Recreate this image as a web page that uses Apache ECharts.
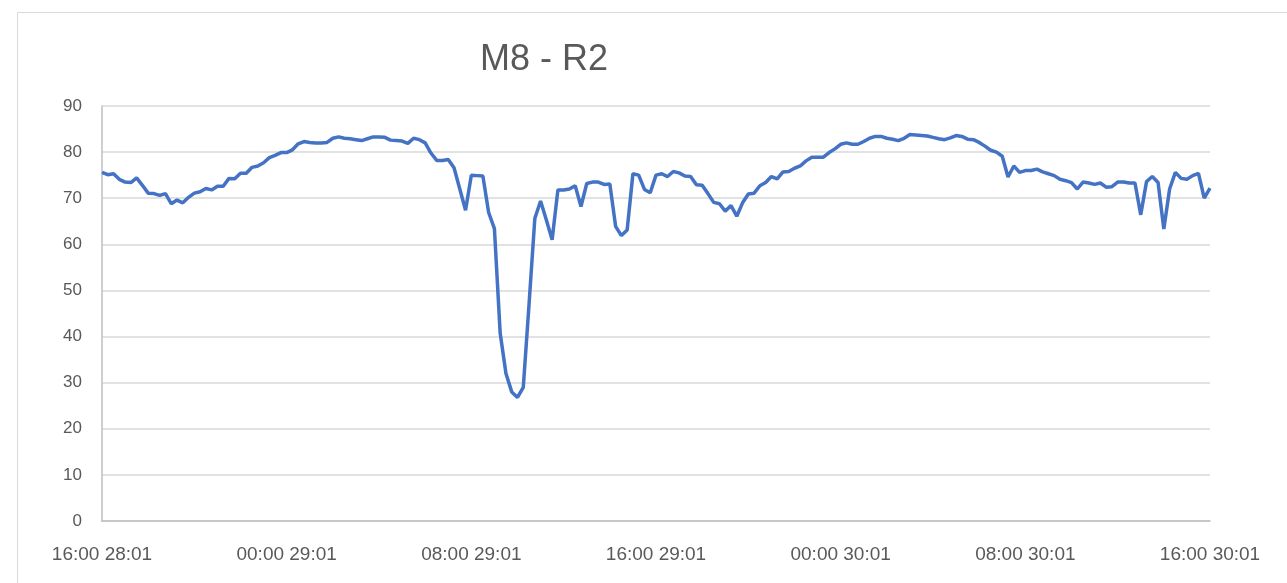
<!DOCTYPE html>
<html>
<head>
<meta charset="utf-8">
<script src="https://cdn.jsdelivr.net/npm/echarts@6/dist/echarts.min.js"></script>
<style>
  html, body { margin: 0; padding: 0; background: #fff; }
  #chart { width: 1287px; height: 583px; }
</style>
</head>
<body>
<div id="chart"></div>
<script>
// 15-minute readings, 16:00 28/01 -> 16:00 30/01
const values = [
  75.6, 75.1, 75.3, 74.1, 73.5, 73.4, 74.4, 72.8, 71.1, 71.0,
  70.6, 71.0, 68.8, 69.6, 69.0, 70.2, 71.1, 71.4, 72.1, 71.8,
  72.6, 72.6, 74.3, 74.2, 75.4, 75.4, 76.7, 77.0, 77.7, 78.8,
  79.3, 79.9, 79.9, 80.5, 81.8, 82.3, 82.1, 82.0, 82.0, 82.1,
  83.0, 83.3, 83.0, 82.9, 82.7, 82.5, 82.9, 83.3, 83.3, 83.2,
  82.6, 82.5, 82.4, 81.9, 83.0, 82.7, 82.0, 79.8, 78.2, 78.2,
  78.4, 76.6, 72.0, 67.4, 75.0, 74.9, 74.8, 66.9, 63.4, 40.7,
  32.0, 28.0, 26.8, 29.0, 47.0, 65.6, 69.4, 65.3, 61.0, 71.8,
  71.8, 72.0, 72.7, 68.2, 73.2, 73.5, 73.5, 73.0, 73.1, 63.9,
  61.9, 63.1, 75.3, 75.0, 71.9, 71.2, 75.0, 75.3, 74.7, 75.8,
  75.5, 74.8, 74.7, 72.9, 72.8, 71.0, 69.1, 68.8, 67.2, 68.4,
  66.1, 69.0, 70.9, 71.1, 72.7, 73.4, 74.7, 74.2, 75.7, 75.8,
  76.5, 77.0, 78.1, 78.9, 78.9, 78.9, 79.9, 80.7, 81.7, 82.0,
  81.7, 81.7, 82.3, 83.0, 83.4, 83.4, 83.0, 82.8, 82.5, 83.0,
  83.8, 83.7, 83.6, 83.5, 83.2, 82.9, 82.7, 83.1, 83.6, 83.4,
  82.8, 82.7, 82.1, 81.3, 80.4, 80.0, 79.1, 74.6, 77.0, 75.6,
  76.0, 76.0, 76.3, 75.7, 75.3, 74.9, 74.1, 73.8, 73.4, 72.0,
  73.5, 73.3, 73.0, 73.3, 72.4, 72.5, 73.5, 73.5, 73.3, 73.3,
  66.4, 73.6, 74.7, 73.4, 63.3, 72.0, 75.6, 74.3, 74.1, 74.9,
  75.4, 70.0, 72.2
];

const startDay = 28;
const startHour = 16;

const pad = (n) => (n < 10 ? '0' + n : '' + n);

// category labels "HH:MM DD:01"
const times = values.map((v, i) => {
  const mins = startHour * 60 + i * 15;
  const day = startDay + Math.floor(mins / 1440);
  const m = mins % 1440;
  return pad(Math.floor(m / 60)) + ':' + pad(m % 60) + ' ' + day + ':01';
});

const chart = echarts.init(document.getElementById('chart'));

const option = {
  backgroundColor: '#fff',
  animation: false,
  title: {
    text: 'M8 - R2',
    left: 539,
    top: 37,
    textAlign: 'center',
    textStyle: {
      color: '#595959',
      fontSize: 36,
      fontWeight: 'normal',
      fontFamily: 'Liberation Sans, Arial, sans-serif',
    },
  },
  graphic: [
    {
      type: 'rect',
      shape: { x: 17.5, y: 12.5, width: 1300, height: 600 },
      style: { fill: 'none', stroke: '#d9d9d9', lineWidth: 1 },
      silent: true,
    },
  ],
  grid: {
    left: 102,
    right: 77,
    top: 106,
    bottom: 62,
  },
  xAxis: {
    type: 'category',
    data: times,
    boundaryGap: false,
    axisLine: {
      lineStyle: { color: '#bfbfbf', width: 1.5 },
    },
    axisTick: { show: false },
    axisLabel: {
      interval: 31,
      margin: 24,
      color: '#595959',
      fontSize: 19,
      fontFamily: 'Liberation Sans, Arial, sans-serif',
    },
    splitLine: { show: false },
  },
  yAxis: {
    type: 'value',
    min: 0,
    max: 90,
    interval: 10,
    axisLine: {
      show: true,
      lineStyle: { color: '#bfbfbf', width: 1.5 },
    },
    axisTick: { show: false },
    axisLabel: {
      margin: 20,
      color: '#595959',
      fontSize: 17,
      fontFamily: 'Liberation Sans, Arial, sans-serif',
    },
    splitLine: {
      show: true,
      lineStyle: { color: '#d9d9d9', width: 1.5 },
    },
  },
  series: [
    {
      name: 'M8 - R2',
      type: 'line',
      data: values,
      showSymbol: false,
      symbol: 'none',
      smooth: false,
      lineStyle: {
        color: '#4472c4',
        width: 3.5,
      },
    },
  ],
};

chart.setOption(option);
</script>
</body>
</html>
